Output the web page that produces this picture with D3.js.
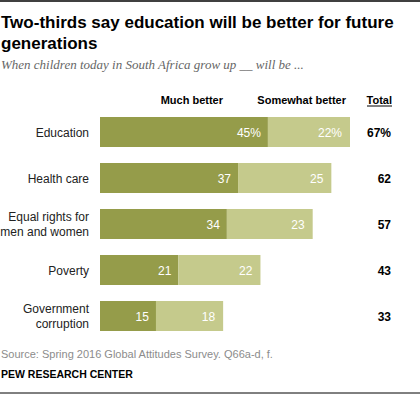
<!DOCTYPE html>
<html>
<head>
<meta charset='utf-8'>
<title>Education better for future generations</title>
<style>
	body {margin: 0; background: #fff;}
	svg {display: block; font-family: Arial, "Liberation Sans", sans-serif;}
	.title {font-size: 17px; font-weight: bold; fill: #000;}
	.sub {font-family: "Liberation Serif", Georgia, serif; font-style: italic; font-size: 13px; fill: #666;}
	.cat {font-size: 12px; fill: #222;}
	.head {font-size: 11px; font-weight: bold; fill: #000;}
	.val {font-size: 12px; fill: #fff;}
	.tot {font-size: 12px; font-weight: bold; fill: #000;}
	.src {font-size: 11px; fill: #8c8c8c;}
	.pew {font-size: 10.5px; font-weight: bold; fill: #000;}
</style>
</head>
<body>
<script src='https://cdnjs.cloudflare.com/ajax/libs/d3/7.8.5/d3.min.js'></script>
<script>

var W = 420, H = 398;

var categories = [["Education"], ["Health care"], ["Equal rights for", "men and women"], ["Poverty"], ["Government", "corruption"]];
var much_better = [45, 37, 34, 21, 15];
var somewhat_better = [22, 25, 23, 22, 18];
var totals = [67, 62, 57, 43, 33];
var headers = ["Much better", "Somewhat better", "Total"];

var svg = d3.select('body').append('svg').attr('width', W).attr('height', H);

// rules top and bottom
svg.append('line').attr('x1', 0).attr('x2', W).attr('y1', 1).attr('y2', 1).attr('stroke', '#000').attr('stroke-width', 1.5);
svg.append('line').attr('x1', 0).attr('x2', W).attr('y1', 393).attr('y2', 393).attr('stroke', '#000').attr('stroke-width', 1);

svg.append('text').attr('class', 'title').attr('x', 1).attr('y', 28).text('Two-thirds  say education  will be better  for  future');
svg.append('text').attr('class', 'title').attr('x', 1).attr('y', 49).text('generations');
svg.append('text').attr('class', 'sub').attr('x', 1).attr('y', 69).text('When children today in South Africa grow up __ will be ...');

var x = d3.scaleLinear().domain([0, 67]).range([100, 350]);
var y = d3.scaleBand().domain(d3.range(categories.length)).range([117, 331]).paddingInner(16 / 46).paddingOuter(0);

// headers
svg.append('text').attr('class', 'head').attr('x', 223).attr('y', 104).attr('text-anchor', 'end').text(headers[0]);
svg.append('text').attr('class', 'head').attr('x', 346).attr('y', 104).attr('text-anchor', 'end').text(headers[1]);
svg.append('text').attr('class', 'head').attr('x', 392).attr('y', 104).attr('text-anchor', 'end').text(headers[2]);
svg.append('line').attr('x1', 367).attr('x2', 392).attr('y1', 106).attr('y2', 106).attr('stroke', '#000').attr('stroke-width', 1);

var rows = svg.selectAll('g.row').data(categories).enter().append('g').attr('class', 'row')
	.attr('transform', function(d, i) { return 'translate(0,' + y(i) + ')'; });

var bh = y.bandwidth();

rows.append('rect').attr('x', x(0)).attr('y', 0).attr('height', bh)
	.attr('width', function(d, i) { return x(much_better[i]) - x(0); })
	.attr('fill', '#959c4a');
rows.append('rect').attr('x', function(d, i) { return x(much_better[i]); }).attr('y', 0).attr('height', bh)
	.attr('width', function(d, i) { return x(much_better[i] + somewhat_better[i]) - x(much_better[i]); })
	.attr('fill', '#c5ca8c');

rows.append('text').attr('class', 'val').attr('text-anchor', 'end')
	.attr('x', function(d, i) { return x(much_better[i]) - 7; }).attr('y', bh / 2 + 4.5)
	.text(function(d, i) { return much_better[i] + (i == 0 ? '%' : ''); });
rows.append('text').attr('class', 'val').attr('text-anchor', 'end')
	.attr('x', function(d, i) { return x(much_better[i] + somewhat_better[i]) - 8; }).attr('y', bh / 2 + 4.5)
	.text(function(d, i) { return somewhat_better[i] + (i == 0 ? '%' : ''); });

rows.append('text').attr('class', 'tot').attr('text-anchor', 'end').attr('x', 391).attr('y', bh / 2 + 4.5)
	.text(function(d, i) { return totals[i] + (i == 0 ? '%' : ''); });

rows.each(function(d) {
	var g = d3.select(this);
	var t = g.append('text').attr('class', 'cat').attr('text-anchor', 'end').attr('x', 89);
	var y0 = bh / 2 + 4.5 - (d.length - 1) * 7.5;
	d.forEach(function(line, k) {
		t.append('tspan').attr('x', 89).attr('y', y0 + k * 15).text(line);
	});
});

svg.append('text').attr('class', 'src').attr('x', 1).attr('y', 358).text('Source: Spring 2016 Global Attitudes Survey. Q66a-d, f.');
svg.append('text').attr('class', 'pew').attr('x', 1).attr('y', 378).text('PEW RESEARCH CENTER');

</script>
</body>
</html>
